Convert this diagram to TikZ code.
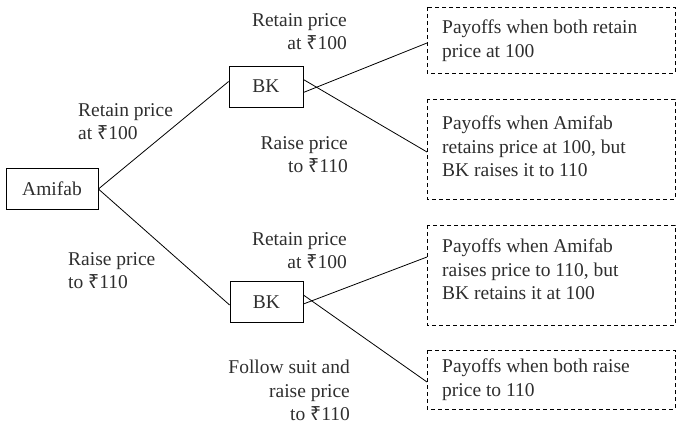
\documentclass[tikz,border=0pt]{standalone}
\usepackage{fontspec}
\setmainfont{Liberation Serif}
\newfontfamily\rupeefont{Noto Sans}
\newcommand{\rs}{{\rupeefont\char"20B9}}
\begin{document}
\begin{tikzpicture}[x=1pt,y=-1pt,
  every node/.style={font=\fontsize{19.5}{23.5}\selectfont, text=black!82},
  player/.style={draw, line width=0.8pt, minimum height=41pt, inner sep=0pt},
  payoff/.style={draw, dashed, dash pattern=on 4pt off 3pt, line width=0.7pt},
  move/.style={line width=0.8pt},
  lblR/.style={align=right, anchor=north east, inner sep=0pt},
  lblL/.style={align=left, anchor=north west, inner sep=0pt}]
\useasboundingbox (0,0) rectangle (676,428);

% decision nodes
\node[player, minimum width=92pt] (amifab) at (52,189) {Amifab};
\node[player, minimum width=74pt] (bkA) at (266,86.5) {BK};
\node[player, minimum width=73pt] (bkB) at (266.5,302) {BK};

% outcome boxes, entered from the left edge
\draw[payoff] (427,7) rectangle (675,73);
\draw[payoff] (427,99) rectangle (675,199);
\draw[payoff] (427,225) rectangle (675,325);
\draw[payoff] (427,350) rectangle (675,409);
\coordinate (p1in) at (427,43);
\coordinate (p2in) at (427,152);
\coordinate (p3in) at (427,257);
\coordinate (p4in) at (427,382);

\node[lblL] (t1) at (442,20) {Payoffs when both retain\\price at 100};
\node[lblL] (t2) at (442,116) {Payoffs when Amifab\\retains price at 100, but\\BK raises it to 110};
\node[lblL] (t3) at (442,239) {Payoffs when Amifab\\raises price to 110, but\\BK retains it at 100};
\node[lblL] (t4) at (442,359) {Payoffs when both raise\\price to 110};

% moves
\draw[move] (amifab.east) -- ([yshift=5pt]bkA.west);
\draw[move] (amifab.east) -- ([yshift=-3pt]bkB.west);
\draw[move] ([yshift=-6pt]bkA.east) -- (p1in);
\draw[move] ([yshift=7pt]bkA.east) -- (p2in);
\draw[move] ([yshift=-2pt]bkB.east) -- (p3in);
\draw[move] ([yshift=7pt]bkB.east) -- (p4in);

% move labels
\node[lblL] (l1) at (78,103) {Retain price\\at \rs100};
\node[lblL] (l2) at (68,252) {Raise price\\to \rs110};
\node[lblR] (l3) at (347,13) {Retain price\\at \rs100};
\node[lblR] (l4) at (348,136) {Raise price\\to \rs110};
\node[lblR] (l5) at (347,232) {Retain price\\at \rs100};
\node[lblR] (l6) at (350,360) {Follow suit and\\raise price\\to \rs110};
\end{tikzpicture}
\end{document}
